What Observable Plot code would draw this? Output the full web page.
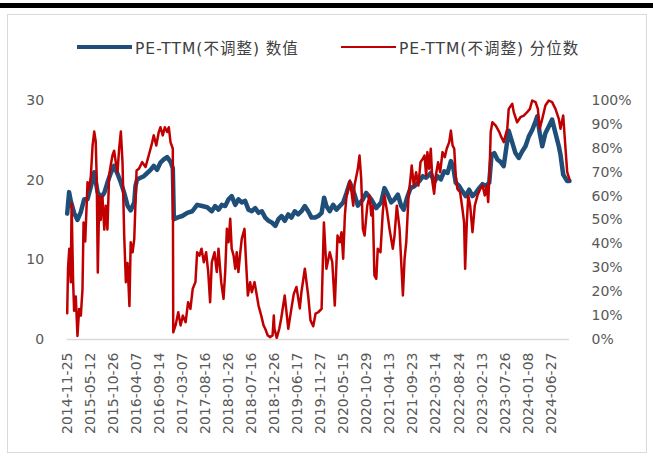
<!DOCTYPE html>
<html><head><meta charset="utf-8">
<script src="https://cdn.jsdelivr.net/npm/d3@7"></script>
<script src="https://cdn.jsdelivr.net/npm/@observablehq/plot@0.6"></script>
<style>
html,body{margin:0;padding:0;background:#fff;}
#wrap{position:relative;width:653px;height:457px;overflow:hidden;font-family:"DejaVu Sans","Noto Sans CJK SC",sans-serif;}
#bar{position:absolute;left:0;top:3px;width:653px;height:4.5px;background:#000;}
#frame{position:absolute;left:7px;top:14px;width:638px;height:437px;border:1.5px solid #d9d9d9;}
.item{position:absolute;top:37px;height:20px;display:flex;align-items:center;font-size:15.5px;letter-spacing:1px;color:#404040;white-space:nowrap;}
.sw{display:inline-block;width:55px;margin-right:3px;}
#chart{position:absolute;left:0;top:0;}
</style></head>
<body><div id="wrap"><div id="bar"></div><div id="frame"></div><div id="chart"></div></div>
<script>
const tickLabels = ["2014-11-25","2015-05-12","2015-10-26","2016-04-07","2016-09-14","2017-03-07","2017-08-16","2018-01-26","2018-07-16","2018-12-26","2019-06-17","2019-11-27","2020-05-15","2020-10-29","2021-04-13","2021-09-23","2022-03-14","2022-08-24","2023-02-13","2023-07-26","2024-01-08","2024-06-27"];
const tickDays = tickLabels.map((_, i) => i * 110);
const lastDay = 2397;
const seriesNames = ["PE-TTM(不调整) 数值", "PE-TTM(不调整) 分位数"];
const seriesColors = ["#1F4E79", "#C00000"];
const leftTicks = [0, 10, 20, 30];
const rightTicks = [0, 10, 20, 30, 40, 50, 60, 70, 80, 90, 100];

// PE-TTM value (left axis), sampled by trading-day index
const peDay = [0,9,17,33,49,65,81,97,113,129,145,160,177,192,208,224,240,256,272,288,303,320,326,334,350,366,382,398,413,429,445,461,477,493,504,509,525,549,573,597,620,644,668,690,706,722,738,754,770,785,802,817,833,849,865,881,897,913,929,945,961,976,993,1008,1023,1038,1055,1070,1086,1102,1118,1134,1150,1166,1182,1198,1214,1226,1237,1253,1269,1285,1301,1317,1333,1349,1360,1371,1387,1411,1427,1451,1475,1498,1514,1530,1546,1562,1578,1594,1606,1622,1638,1657,1681,1697,1713,1735,1751,1767,1783,1799,1815,1831,1843,1854,1871,1886,1902,1918,1934,1950,1966,1982,1998,2014,2025,2038,2053,2068,2083,2107,2124,2139,2155,2171,2187,2203,2219,2235,2243,2255,2267,2282,2298,2314,2330,2346,2354,2367,2386,2397];
const peValue = [15.8,18.5,17.4,15.9,15.0,16.0,17.6,17.6,19.2,21.0,18.5,17.8,18.4,19.7,20.9,21.8,20.8,19.7,18.4,16.8,16.2,17.2,19.3,20.1,20.3,20.5,20.9,21.3,21.8,21.3,22.2,22.6,22.9,22.3,21.5,15.1,15.3,15.5,15.9,16.1,16.9,16.75,16.6,16.1,16.75,16.3,16.9,16.75,17.6,18.0,16.9,17.6,17.2,17.4,16.3,16.1,16.5,15.9,16.1,15.3,14.9,14.7,14.25,15.1,15.5,14.9,15.7,15.3,16.1,15.7,16.1,16.75,16.1,15.3,15.3,15.5,15.9,17.8,16.75,16.1,16.9,16.3,16.75,17.2,18.4,19.7,19.0,18.2,16.8,17.6,18.4,17.6,16.5,17.2,19.0,18.2,17.2,17.6,18.2,16.75,16.3,17.8,19.0,19.25,19.9,20.5,20.3,20.9,19.7,20.5,20.1,21.1,20.9,22.4,21.5,19.7,19.25,18.6,18.0,18.8,18.0,18.4,19.0,19.5,19.25,19.7,23.2,23.4,22.6,22.3,21.75,26.2,24.7,23.4,22.8,23.6,24.25,25.5,26.3,27.4,28.0,25.9,24.25,25.9,26.75,27.6,25.9,24.25,23.2,20.7,19.9,19.9];

// PE-TTM percentile (right axis, %), sampled by trading-day index
const pctDay = [0,4,10,17,21,28,33,41,49,57,65,73,78,86,97,105,113,121,129,136,141,146,153,160,168,177,184,192,200,208,216,224,232,240,248,256,264,272,280,288,297,303,312,320,331,342,358,374,389,402,413,425,437,445,456,466,477,485,493,504,506,517,530,541,552,565,577,588,599,612,620,631,641,652,663,673,682,690,703,714,722,735,746,754,762,770,778,785,794,802,809,817,826,833,846,852,862,873,881,894,905,913,926,937,945,957,969,980,986,989,1000,1012,1021,1038,1055,1070,1081,1094,1110,1118,1134,1150,1161,1174,1185,1198,1214,1225,1237,1253,1265,1277,1290,1301,1309,1317,1325,1333,1349,1357,1365,1371,1387,1395,1403,1411,1419,1432,1443,1451,1458,1466,1475,1482,1495,1506,1514,1527,1538,1554,1562,1573,1586,1594,1602,1610,1618,1629,1638,1644,1654,1665,1676,1686,1697,1705,1713,1719,1727,1735,1743,1751,1759,1770,1780,1791,1802,1811,1823,1831,1839,1847,1854,1862,1875,1886,1894,1899,1907,1914,1923,1934,1945,1958,1971,1982,1993,2002,2009,2015,2021,2029,2045,2062,2068,2083,2100,2107,2124,2131,2147,2163,2179,2195,2208,2219,2235,2246,2255,2267,2282,2298,2314,2330,2346,2354,2367,2378,2386,2397];
const pctValue = [11,30,38,24,57,25,12,18,1.5,12.8,10,21,49,41,65.8,63,68.6,81,87,83,67,28,60,50,60,46,56,46,68.6,73,77,79,74,70,80,87,74,43.5,24,32,14,40.7,36.5,42,70.7,71.4,74.2,72.2,77,81.2,85.4,81.2,86.8,88.8,85.4,88.8,86.8,88.8,82.6,79.8,3,5.9,11.4,5.9,10,7.2,15.6,12.8,21.2,24,36.5,35.1,38,32.3,36.5,28.2,15.6,32.3,36.5,28.2,38,24,17,28.2,46.3,40.7,50.5,38,35.1,29.6,36.5,28.2,36.5,42.1,46.3,35.1,18.4,24,19.8,24,18.4,14.2,10,5.9,4.5,1.7,1,1.7,10,4.5,0.7,4.5,8.7,18.4,4.5,13,19,22,13,20,29.6,18.4,8,5.5,10.8,11.4,12.8,49,29.6,36.5,32.3,14.2,43.5,40.7,44.9,33.8,51.9,60,66.5,61.6,56,64.4,71.4,77,67.2,46.3,43.5,56,60.3,51.9,56,26.8,25.4,38,36.5,53.3,60.3,53.3,46.3,38,43.5,56,46.3,32.3,18.4,33.8,40.7,60.3,67.2,72.8,64.4,70,64.4,74.2,75.6,77,68.6,78.4,71.4,79.8,65.8,61,68.6,74.2,70,78.4,76.3,79.8,82.6,87.4,81.2,79.8,68.6,63,61.6,54.7,49,29.6,49,60.3,56,44.9,56,60.3,63,64.4,60.3,64.4,57.5,68.6,86.8,90.9,89.5,86.8,85.4,82.6,88.2,96.5,98.6,95.1,90.9,93,93.7,95.1,96.5,100,99.3,96.5,88.2,92.3,97.9,100,99.3,96.5,92.3,88.2,93.7,79.8,70,67];

const pe = peDay.map((d, i) => ({day: d, v: peValue[i]}));
const pct = pctDay.map((d, i) => ({day: d, v: pctValue[i]}));
const leftMax = 30;

const chart = Plot.plot({
  width: 653, height: 457,
  marginLeft: 66.7, marginRight: 84, marginTop: 100, marginBottom: 118,
  style: {background: "transparent", fontFamily: "DejaVu Sans, sans-serif", fontSize: "14px", color: "#595959"},
  x: {type: "linear", domain: [0, lastDay]},
  y: {domain: [0, leftMax]},
  marks: [
    Plot.ruleY([0], {stroke: "#d9d9d9", strokeWidth: 1.5}),
    Plot.axisY(leftTicks, {anchor: "left", tickSize: 0, tickPadding: 23, label: null}),
    Plot.axisY(rightTicks.map(p => p / 100 * leftMax), {anchor: "right", tickSize: 0, tickPadding: 22, label: null, tickFormat: d => Math.round(d / leftMax * 100) + "%"}),
    Plot.axisX(tickDays, {anchor: "bottom", tickSize: 0, tickPadding: 13, tickRotate: -90, label: null, tickFormat: d => tickLabels[tickDays.indexOf(d)]}),
    Plot.line(pe, {x: "day", y: "v", stroke: seriesColors[0], strokeWidth: 4.5, strokeLinejoin: "round"}),
    Plot.line(pct, {x: "day", y: d => d.v / 100 * leftMax, stroke: seriesColors[1], strokeWidth: 2.5, strokeLinejoin: "round"})
  ]
});
document.getElementById("chart").appendChild(chart);

const wrap = document.getElementById("wrap");
const lefts = [77, 341];
const thick = [4, 2.5];
seriesNames.forEach((name, i) => {
  const it = document.createElement("div");
  it.className = "item";
  it.style.left = lefts[i] + "px";
  const sw = document.createElement("span");
  sw.className = "sw";
  sw.style.height = thick[i] + "px";
  sw.style.background = seriesColors[i];
  it.appendChild(sw);
  it.appendChild(document.createTextNode(name));
  wrap.appendChild(it);
});
</script></body></html>
